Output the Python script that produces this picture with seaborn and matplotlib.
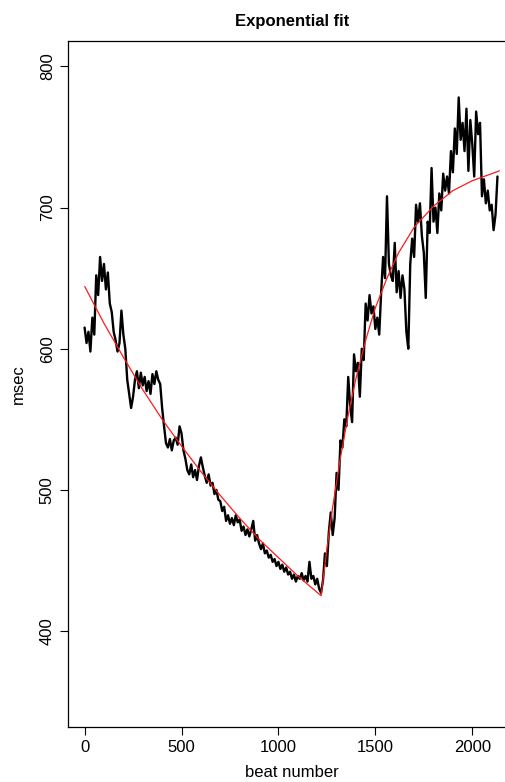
import numpy as np
import pandas as pd
import matplotlib
matplotlib.use("Agg")
import matplotlib.pyplot as plt
import seaborn as sns

# RR interval (msec), sampled every 10 beats
rr_msec = [
    615, 604, 612, 598, 622, 610, 652, 638, 665, 648, 660, 642, 654, 632, 626, 612, 606, 598, 604, 627, 610,
    600, 578, 568, 558, 566, 578, 584, 572, 583, 574, 580, 570, 577, 568, 582, 575, 584, 578, 575, 558,
    545, 533, 530, 536, 528, 535, 537, 532, 545, 540, 528, 522, 514, 511, 518, 509, 514, 507, 517, 523,
    516, 510, 505, 511, 503, 505, 497, 500, 493, 492, 485, 488, 478, 482, 476, 480, 475, 482, 477, 479,
    471, 474, 468, 472, 467, 472, 478, 464, 468, 462, 458, 462, 455, 457, 452, 454, 449, 451, 446, 449,
    444, 447, 442, 445, 440, 442, 437, 440, 435, 439, 437, 441, 436, 439, 435, 449, 437, 439, 433, 437,
    430, 427, 436, 455, 446, 470, 484, 468, 480, 512, 500, 535, 530, 550, 545, 580, 560, 548, 596, 584,
    590, 566, 600, 592, 632, 620, 638, 625, 630, 614, 622, 610, 640, 665, 650, 708, 660, 652, 648, 675,
    640, 655, 636, 652, 642, 612, 600, 660, 678, 665, 702, 690, 703, 680, 668, 636, 690, 682, 728, 690,
    700, 682, 710, 698, 724, 712, 722, 710, 740, 725, 756, 738, 778, 748, 760, 740, 770, 726, 762, 745,
    722, 768, 752, 760, 708, 720, 703, 712, 698, 702, 684, 695, 722,
]
beat_step = 10

# Fitted exponential curves (decay, then recovery)
fit_beat = [1, 100, 200, 300, 400, 500, 600, 700, 800, 900, 1000, 1100, 1220,
            1250, 1280, 1320, 1360, 1400, 1450, 1500, 1560, 1620, 1700, 1800,
            1900, 2000, 2140]
fit_msec = [644, 618, 594, 571, 550, 531, 513, 496, 480, 465, 452, 439, 425,
            458, 488, 523, 553, 579, 606, 629, 650, 668, 686, 701,
            712, 719, 726]

x_ticks = [0, 500, 1000, 1500, 2000]
y_ticks = [400, 500, 600, 700, 800]

series = pd.DataFrame({"beat": np.arange(len(rr_msec)) * beat_step, "msec": rr_msec})
fit = pd.DataFrame({"beat": fit_beat, "msec": fit_msec})

sns.set_style("ticks")
plt.rcParams["font.family"] = ["Liberation Sans", "DejaVu Sans"]
plt.rcParams["text.color"] = "black"
plt.rcParams["axes.labelcolor"] = "black"
plt.rcParams["xtick.color"] = "black"
plt.rcParams["ytick.color"] = "black"

fig = plt.figure(figsize=(5.06, 7.82), dpi=100)
ax = fig.add_axes([68 / 506, 55 / 782, 448 / 506, 686 / 782])

sns.lineplot(data=series, x="beat", y="msec", ax=ax, color="black",
             linewidth=1.7, estimator=None, sort=False)
sns.lineplot(data=fit, x="beat", y="msec", ax=ax, color="#ff1a1a",
             linewidth=0.9, estimator=None, sort=False)

ax.set_xlim(-85.6, 2225.6)
ax.set_ylim(332, 818)
ax.set_xticks(x_ticks)
ax.set_yticks(y_ticks)
ax.set_xticklabels([str(v) for v in x_ticks], fontsize=12)
ax.set_yticklabels([str(v) for v in y_ticks], fontsize=12, rotation=90, va="center")
ax.tick_params(axis="both", direction="out", length=5.5, width=0.8,
               color="black", labelcolor="black", pad=4)
for side in ["left", "bottom", "top"]:
    ax.spines[side].set_visible(True)
    ax.spines[side].set_linewidth(0.9)
    ax.spines[side].set_color("black")
ax.spines["right"].set_visible(False)

ax.set_xlabel("beat number", fontsize=12, labelpad=7, color="black")
ax.set_ylabel("msec", fontsize=12, labelpad=10, color="black")
ax.set_title("Exponential fit", fontsize=12, fontweight="bold", pad=11, color="black")

fig.savefig("out.png", dpi=100)
